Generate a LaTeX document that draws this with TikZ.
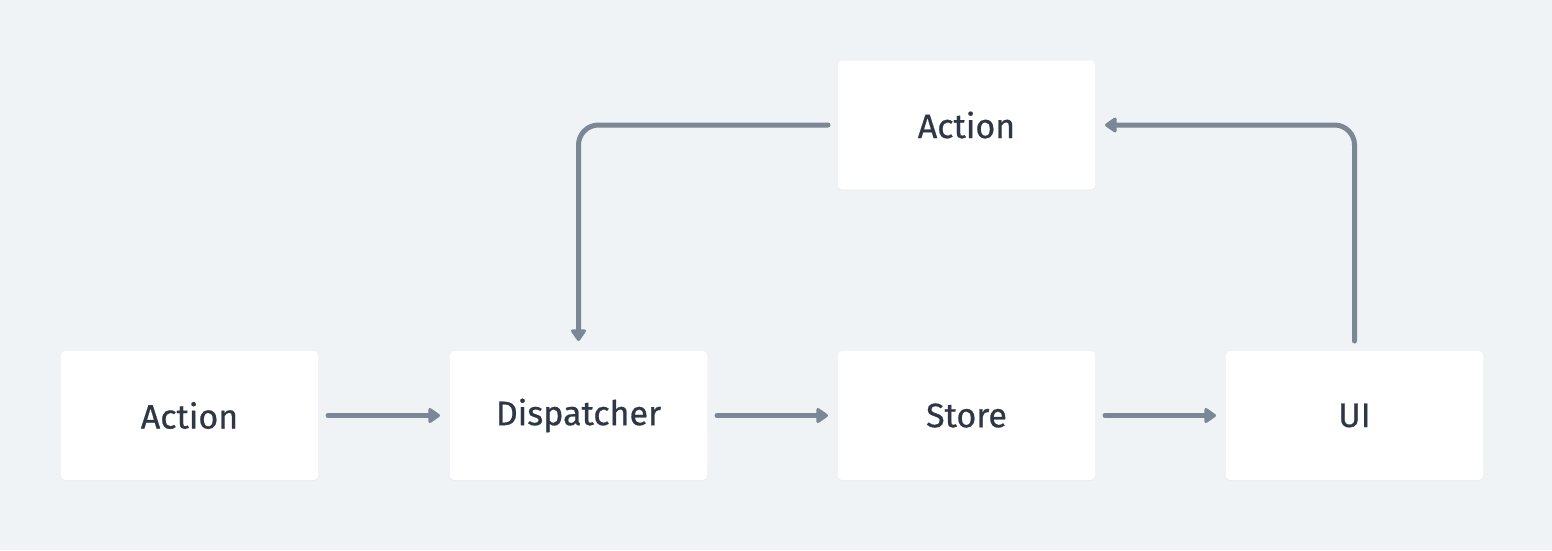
\documentclass[tikz,border=0pt]{standalone}
\usepackage{fontspec}
\setmainfont[FakeBold=0.6]{Fira Sans}
\usetikzlibrary{arrows.meta,shadows}
\definecolor{bgc}{HTML}{F0F3F6}
\definecolor{linec}{HTML}{7B8794}
\definecolor{txtc}{HTML}{2D3746}
\tikzset{
  box/.style={draw=none, fill=white, rounded corners=4pt, minimum width=257pt, minimum height=129pt,
    inner sep=0pt, outer sep=0pt, text=txtc, font=\fontsize{34}{40}\selectfont,
    drop shadow={opacity=0.06, shadow xshift=0pt, shadow yshift=-1pt}},
  arr/.style={draw=linec, line width=5pt, line cap=round,
    -{Triangle[length=13pt,width=17pt,round]}, shorten <=10pt, shorten >=10pt},
}
\begin{document}
\begin{tikzpicture}[x=1pt,y=-1pt]
\fill[bgc] (0,0) rectangle (1552,550);
\useasboundingbox (0,0) rectangle (1552,550);
\node[box] (a1) at (189.5,415.5) {Action};
\node[box] (disp) at (578.5,415.5) {Dispatcher};
\node[box] (store) at (966.5,415.5) {Store};
\node[box] (ui) at (1354.5,415.5) {UI};
\node[box] (a2) at (966.5,125) {Action};
\draw[arr] (a1) -- (disp);
\draw[arr] (disp) -- (store);
\draw[arr] (store) -- (ui);
\draw[arr, rounded corners=20pt] (a2.west) -| (disp.north);
\draw[arr, rounded corners=20pt] (ui.north) |- (a2.east);
\end{tikzpicture}
\end{document}
